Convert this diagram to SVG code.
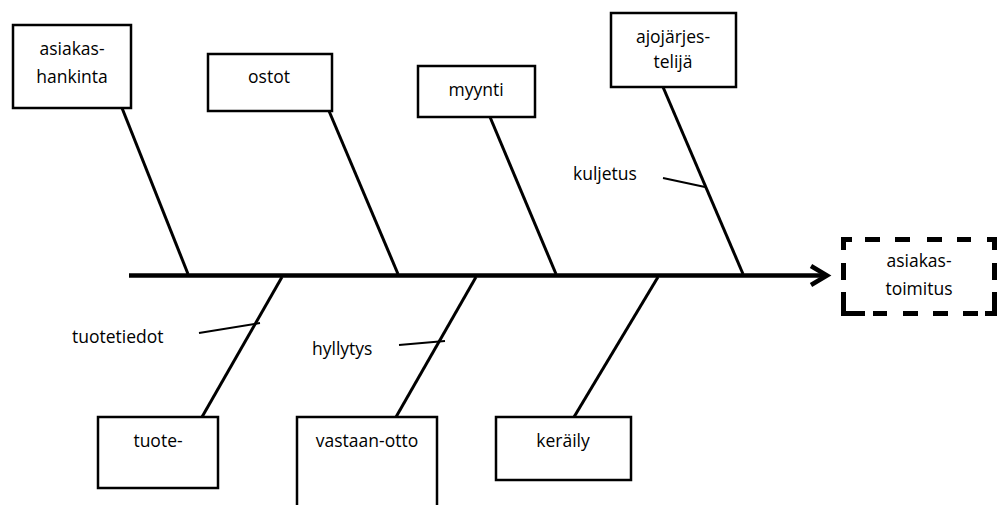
<svg xmlns="http://www.w3.org/2000/svg" width="999" height="505" viewBox="0 0 999 505">
  <style>
    .box { fill: #fff; stroke: #000; stroke-width: 2.5; }
    .bone { stroke: #000; stroke-width: 3; fill: none; }
    .tick { stroke: #000; stroke-width: 2; fill: none; }
    .dash { stroke: #000; stroke-width: 5; fill: none; stroke-linecap: butt; stroke-linejoin: miter; }
    text { font-family: "Open Sans", "Liberation Sans", sans-serif; font-size: 17.5px; fill: #000; }
    .c { text-anchor: middle; }
  </style>
  <rect width="999" height="505" fill="#fff"/>

  <g id="connectors">
    <!-- spine with open arrowhead -->
    <line x1="129" y1="275.5" x2="826" y2="275.5" stroke="#000" stroke-width="4.5"/>
    <polyline points="811,266 827,275.5 811,285" fill="none" stroke="#000" stroke-width="4.5" stroke-linejoin="miter"/>
    <!-- upper bones -->
    <line class="bone" x1="122" y1="108" x2="188" y2="274"/>
    <line class="bone" x1="329" y1="111" x2="398" y2="274"/>
    <line class="bone" x1="490" y1="117" x2="556" y2="274"/>
    <line class="bone" x1="663" y1="87" x2="743" y2="274"/>
    <!-- lower bones -->
    <line class="bone" x1="202" y1="417" x2="282" y2="277"/>
    <line class="bone" x1="396" y1="417" x2="476" y2="277"/>
    <line class="bone" x1="574" y1="417" x2="658" y2="277"/>
    <!-- sub-cause ticks -->
    <line class="tick" x1="663" y1="178" x2="705" y2="187"/>
    <line class="tick" x1="199" y1="333" x2="260" y2="323"/>
    <line class="tick" x1="399" y1="345" x2="445" y2="341"/>
  </g>

  <g id="asiakashankinta">
    <rect class="box" x="13" y="25" width="118" height="83"/>
    <text class="c" x="72" y="55">asiakas-</text>
    <text class="c" x="72" y="83">hankinta</text>
  </g>
  <g id="ostot">
    <rect class="box" x="208" y="54" width="124" height="57"/>
    <text class="c" x="269" y="83">ostot</text>
  </g>
  <g id="myynti">
    <rect class="box" x="418" y="66" width="117" height="51"/>
    <text class="c" x="476" y="96">myynti</text>
  </g>
  <g id="ajojarjestelija">
    <rect class="box" x="611" y="13" width="125" height="74"/>
    <text class="c" x="673" y="43">ajojärjes-</text>
    <text class="c" x="673" y="68">telijä</text>
  </g>
  <g id="kuljetus">
    <text x="573" y="180">kuljetus</text>
  </g>
  <g id="asiakastoimitus">
    <!-- dashed frame: L-shaped corners with dashes between -->
    <path class="dash" d="M843.5,250 V239.5 H852 M994.5,250 V239.5 H987 M843.5,292 V313.5 H865 M994.5,292 V313.5 H985"/>
    <path class="dash" d="M865,239.5 H880 M895,239.5 H910 M927,239.5 H942 M957,239.5 H971"/>
    <path class="dash" d="M873,313.5 H887 M903,313.5 H918 M933,313.5 H948 M963,313.5 H978"/>
    <path class="dash" d="M843.5,263 V280 M994.5,263 V280"/>
    <text class="c" x="919" y="267">asiakas-</text>
    <text class="c" x="919" y="295">toimitus</text>
  </g>
  <g id="tuotetiedot">
    <text x="72" y="343">tuotetiedot</text>
  </g>
  <g id="hyllytys">
    <text x="312" y="355">hyllytys</text>
  </g>
  <g id="tuote">
    <rect class="box" x="98" y="417" width="120" height="71"/>
    <text class="c" x="158" y="447">tuote-</text>
  </g>
  <g id="vastaanotto">
    <rect class="box" x="297" y="417" width="140" height="95"/>
    <text class="c" x="367" y="447">vastaan-otto</text>
  </g>
  <g id="keraily">
    <rect class="box" x="496" y="417" width="135" height="63"/>
    <text class="c" x="563" y="447">keräily</text>
  </g>
</svg>
